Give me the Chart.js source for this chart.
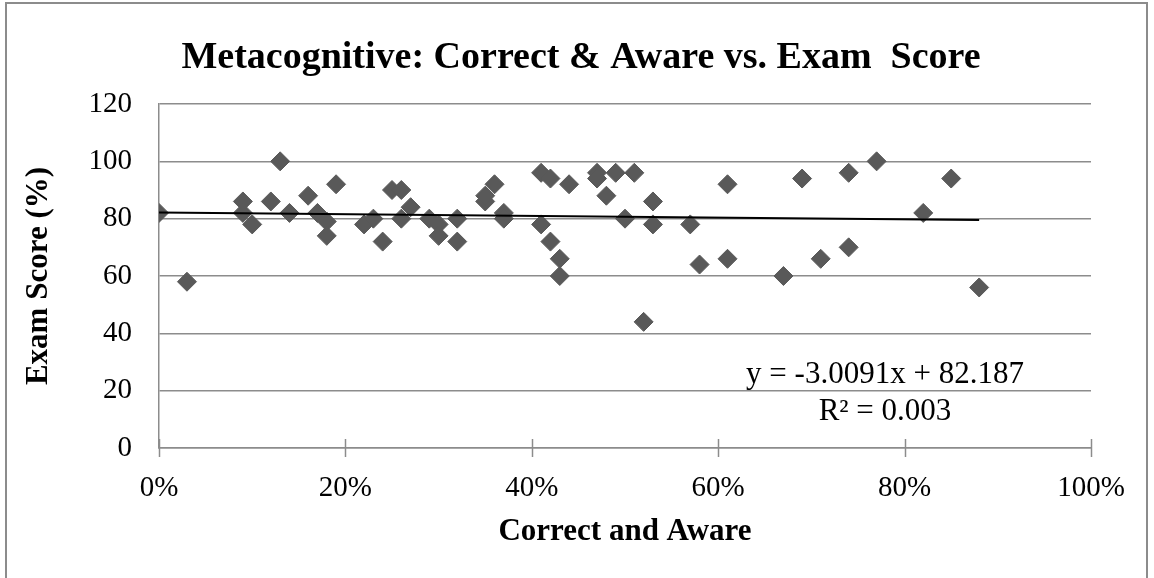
<!DOCTYPE html>
<html>
<head>
<meta charset="utf-8">
<script src="https://cdn.jsdelivr.net/npm/chart.js@4"></script>
<style>
    body { margin: 0; background: #fff; }
    #wrap { position: relative; width: 1154px; height: 578px; overflow: hidden; }
    #frame { position: absolute; left: 5px; top: 2px; width: 1143px; height: 620px; border: 2px solid #8c8c8c; box-sizing: border-box; }
    canvas { position: absolute; left: 0; top: 0; }
</style>
</head>
<body>
<div id="wrap">
    <div id="frame"></div>
    <canvas id="scatterChart" width="1154" height="578"></canvas>
</div>
<script>
// Correct and Aware (fraction) vs Exam Score (%)
const correctAware = [
    0, 0.03, 0.09, 0.09, 0.10, 0.12, 0.13, 0.14, 0.16, 0.17,
    0.18, 0.18, 0.19, 0.22, 0.23, 0.24, 0.25, 0.26, 0.26, 0.27,
    0.29, 0.30, 0.30, 0.32, 0.32, 0.35, 0.35, 0.36, 0.37, 0.37,
    0.41, 0.41, 0.42, 0.42, 0.43, 0.43, 0.44, 0.47, 0.47, 0.48,
    0.49, 0.50, 0.51, 0.52, 0.53, 0.53, 0.57, 0.58, 0.61, 0.61,
    0.67, 0.69, 0.71, 0.74, 0.74, 0.77, 0.82, 0.85, 0.88
];
const examScore = [
    82, 58, 86, 82, 78, 86, 100, 82, 88, 82,
    79, 74, 92, 78, 80, 72, 90, 90, 80, 84,
    80, 78, 74, 80, 72, 86, 88, 92, 82, 80,
    96, 78, 94, 72, 66, 60, 92, 96, 94, 88,
    96, 80, 96, 44, 86, 78, 78, 64, 92, 66,
    60, 94, 66, 96, 70, 100, 82, 94, 56
];
const xTicks = [0, 0.2, 0.4, 0.6, 0.8, 1.0];
const yTicks = [0, 20, 40, 60, 80, 100, 120];

// linear trendline as printed on the chart
const trendSlope = -3.0091;
const trendIntercept = 82.187;
const trendLabel = 'y = -3.0091x + 82.187';
const r2Label = 'R\u00b2 = 0.003';

const SERIF = '"Liberation Serif", "Times New Roman", serif';
const GRID = '#8c8c8c';

const points = correctAware.map((x, i) => ({ x: x, y: examScore[i] }));
const xEnd = Math.max(...correctAware);
const trendPoints = [
    { x: 0, y: trendIntercept },
    { x: xEnd, y: trendIntercept + trendSlope * xEnd }
];

// title, trendline labels and crossing tick marks on x axis
const decorations = {
    id: 'decorations',
    afterDatasetsDraw(chart) {
        const ctx = chart.ctx;
        const xs = chart.scales.x;
        ctx.save();
        ctx.strokeStyle = GRID;
        ctx.lineWidth = 1.5;
        xTicks.forEach(v => {
            const px = Math.round(xs.getPixelForValue(v)) + 0.5;
            ctx.beginPath();
            ctx.moveTo(px, xs.top - 9);
            ctx.lineTo(px, xs.top + 9);
            ctx.stroke();
        });
        ctx.restore();
    },
    afterDraw(chart) {
        const ctx = chart.ctx;
        ctx.save();
        ctx.fillStyle = '#000';
        ctx.textAlign = 'center';
        ctx.textBaseline = 'alphabetic';
        ctx.font = 'bold 38px ' + SERIF;
        ctx.fillText('Metacognitive: Correct & Aware vs. Exam  Score', 581, 68);
        ctx.font = '31px ' + SERIF;
        ctx.fillText(trendLabel, 885, 383);
        ctx.fillText(r2Label, 885, 420);
        ctx.restore();
    }
};

const ctx = document.getElementById('scatterChart').getContext('2d');
const scatterChart = new Chart(ctx, {
    type: 'scatter',
    data: {
        datasets: [{
            type: 'line',
            label: 'Trend',
            data: trendPoints,
            borderColor: '#000',
            borderWidth: 2,
            pointRadius: 0,
            fill: false
        }, {
            label: 'Students',
            data: points,
            pointStyle: 'rectRot',
            pointRadius: 9.5,
            backgroundColor: '#595959',
            borderColor: '#595959',
            borderWidth: 1
        }]
    },
    options: {
        responsive: false,
        animation: false,
        layout: { padding: { left: 0, right: 63, top: 104, bottom: 0 } },
        plugins: {
            legend: { display: false },
            tooltip: { enabled: false }
        },
        scales: {
            x: {
                type: 'linear',
                min: 0,
                max: 1,
                afterFit: scale => { scale.height = 130; },
                afterBuildTicks: scale => { scale.ticks = xTicks.map(v => ({ value: v })); },
                grid: { display: false, drawTicks: false },
                border: { display: true, color: GRID, width: 1.5 },
                ticks: {
                    padding: 23,
                    color: '#000',
                    font: { family: SERIF, size: 29 },
                    callback: v => Math.round(v * 100) + '%'
                },
                title: {
                    display: true,
                    text: 'Correct and Aware',
                    color: '#000',
                    font: { family: SERIF, size: 31, weight: 'bold' },
                    padding: { top: 0, bottom: 27 }
                }
            },
            y: {
                min: 0,
                max: 120,
                afterFit: scale => { scale.width = 159; },
                afterBuildTicks: scale => { scale.ticks = yTicks.map(v => ({ value: v })); },
                grid: { color: GRID, lineWidth: 1.5, drawTicks: false },
                border: { display: true, color: GRID, width: 1.5 },
                ticks: {
                    padding: 27,
                    color: '#000',
                    font: { family: SERIF, size: 29 }
                },
                title: {
                    display: true,
                    text: 'Exam Score (%)',
                    color: '#000',
                    font: { family: SERIF, size: 31, weight: 'bold' },
                    padding: { top: 20, bottom: 0 }
                }
            }
        }
    },
    plugins: [decorations]
});
</script>
</body>
</html>
